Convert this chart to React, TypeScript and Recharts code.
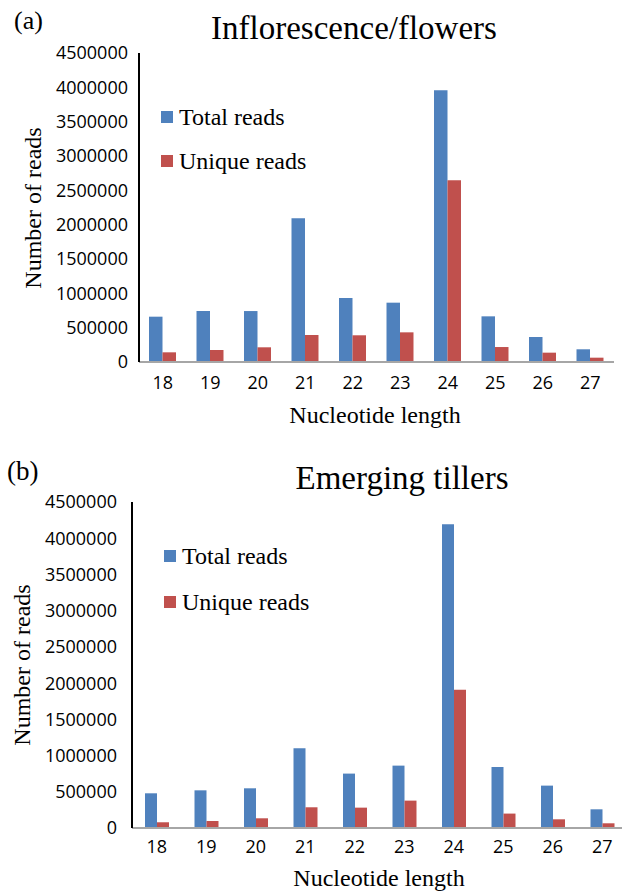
import { BarChart, Bar, XAxis, YAxis, Legend } from 'recharts';

// nucleotide length categories
const lengths = ['18', '19', '20', '21', '22', '23', '24', '25', '26', '27'];

// (a) Inflorescence/flowers
const flowersTotal = [660000, 743000, 742000, 2093000, 932000, 864000, 3957000, 665000, 364000, 185000];
const flowersUnique = [141000, 175000, 214000, 393000, 389000, 432000, 2646000, 218000, 136000, 63000];

// (b) Emerging tillers
const tillersTotal = [479000, 520000, 548000, 1100000, 751000, 861000, 4192000, 842000, 585000, 258000];
const tillersUnique = [79000, 97000, 134000, 286000, 281000, 378000, 1910000, 199000, 120000, 65000];

const yTicks = [0, 500000, 1000000, 1500000, 2000000, 2500000, 3000000, 3500000, 4000000, 4500000];

const BLUE = '#4F81BD';
const RED = '#C0504D';
const SERIF = '"Liberation Serif", "Times New Roman", serif';
const SANS = '"Open Sans", "Liberation Sans", sans-serif';

const buildRows = (total: number[], unique: number[]) =>
  lengths.map((len, i) => ({ len, total: total[i], unique: unique[i] }));

const legendContent = (rowHeight: number, box: number, gap: number) => (props: any) => (
  <div>
    {(props.payload || []).map((p: any) => (
      <div key={p.value} style={{ display: 'flex', alignItems: 'center', height: rowHeight }}>
        <span style={{ display: 'inline-block', width: box, height: box, background: p.color, marginRight: gap }} />
        <span style={{ fontFamily: SERIF, fontSize: 24, lineHeight: '24px', color: '#000', whiteSpace: 'nowrap' }}>
          {p.value}
        </span>
      </div>
    ))}
  </div>
);

interface PanelProps {
  total: number[];
  unique: number[];
  width: number;
  height: number;
  margin: { top: number; right: number; bottom: number; left: number };
  yAxisWidth: number;
  xAxisHeight: number;
  yTickMargin: number;
  xTickMargin: number;
  barSize: number;
  legendPos: { left: number; top: number };
  legendRow: number;
  legendBox: number;
  legendGap: number;
}

function ReadsPanel(p: PanelProps) {
  const data = buildRows(p.total, p.unique);
  const tickStyle = { fontFamily: SANS, fontSize: 18, fill: '#000' };
  return (
    <BarChart width={p.width} height={p.height} data={data} margin={p.margin} barGap={0} barSize={p.barSize}>
      <XAxis
        dataKey="len"
        height={p.xAxisHeight}
        tickLine={false}
        tickSize={0}
        tickMargin={p.xTickMargin}
        tick={tickStyle}
        axisLine={{ stroke: '#a6a6a6', strokeWidth: 2 }}
        interval={0}
      />
      <XAxis xAxisId="top" orientation="top" height={0} tick={false} tickLine={false} axisLine={{ stroke: '#1a1a1a', strokeWidth: 2 }} />
      <YAxis
        width={p.yAxisWidth}
        domain={[0, 4500000]}
        ticks={yTicks}
        interval={0}
        tickLine={false}
        tickSize={0}
        tickMargin={p.yTickMargin}
        tick={tickStyle}
        axisLine={{ stroke: '#000', strokeWidth: 2 }}
      />
      <YAxis yAxisId="right" orientation="right" width={0} tick={false} tickLine={false} axisLine={{ stroke: '#333', strokeWidth: 2 }} />
      <Legend
        layout="vertical"
        align="center"
        verticalAlign="middle"
        wrapperStyle={{ position: 'absolute', left: p.legendPos.left, top: p.legendPos.top, width: 'auto' }}
        content={legendContent(p.legendRow, p.legendBox, p.legendGap)}
      />
      <Bar dataKey="total" name="Total reads" fill={BLUE} isAnimationActive={false} />
      <Bar dataKey="unique" name="Unique reads" fill={RED} isAnimationActive={false} />
    </BarChart>
  );
}

export default function App() {
  return (
    <div style={{ position: 'absolute', left: 0, top: 0, width: 622, height: 893, background: '#fff', overflow: 'hidden' }}>
      <div style={{ position: 'absolute', left: 0, top: 0 }}>
        <ReadsPanel
          total={flowersTotal}
          unique={flowersUnique}
          width={622}
          height={440}
          margin={{ top: 53, right: 8, bottom: 0, left: 0 }}
          yAxisWidth={139}
          xAxisHeight={78}
          yTickMargin={11}
          xTickMargin={14}
          barSize={13.5}
          legendPos={{ left: 161, top: 95 }}
          legendRow={44}
          legendBox={12}
          legendGap={6}
        />
      </div>
      <div style={{ position: 'absolute', left: 0, top: 440 }}>
        <ReadsPanel
          total={tillersTotal}
          unique={tillersUnique}
          width={640}
          height={453}
          margin={{ top: 62, right: 13, bottom: 0, left: 0 }}
          yAxisWidth={132}
          xAxisHeight={65}
          yTickMargin={15}
          xTickMargin={12}
          barSize={12}
          legendPos={{ left: 164, top: 93 }}
          legendRow={46}
          legendBox={12}
          legendGap={6}
        />
      </div>
      <svg width={622} height={893} style={{ position: 'absolute', left: 0, top: 0, pointerEvents: 'none' }}>
        <g fontFamily={SERIF} fill="#000">
          <text x={14} y={29} fontSize={26}>(a)</text>
          <text x={354} y={39} fontSize={33} textAnchor="middle">Inflorescence/flowers</text>
          <text transform="translate(33,208) rotate(-90)" fontSize={24} textAnchor="middle" dominantBaseline="central">
            Number of reads
          </text>
          <text x={375} y={423} fontSize={24} textAnchor="middle">Nucleotide length</text>

          <text x={7} y={480} fontSize={27}>(b)</text>
          <text x={402} y={489} fontSize={33} textAnchor="middle">Emerging tillers</text>
          <text transform="translate(22,665) rotate(-90)" fontSize={24} textAnchor="middle" dominantBaseline="central">
            Number of reads
          </text>
          <text x={379} y={886} fontSize={24} textAnchor="middle">Nucleotide length</text>
        </g>
      </svg>
    </div>
  );
}
